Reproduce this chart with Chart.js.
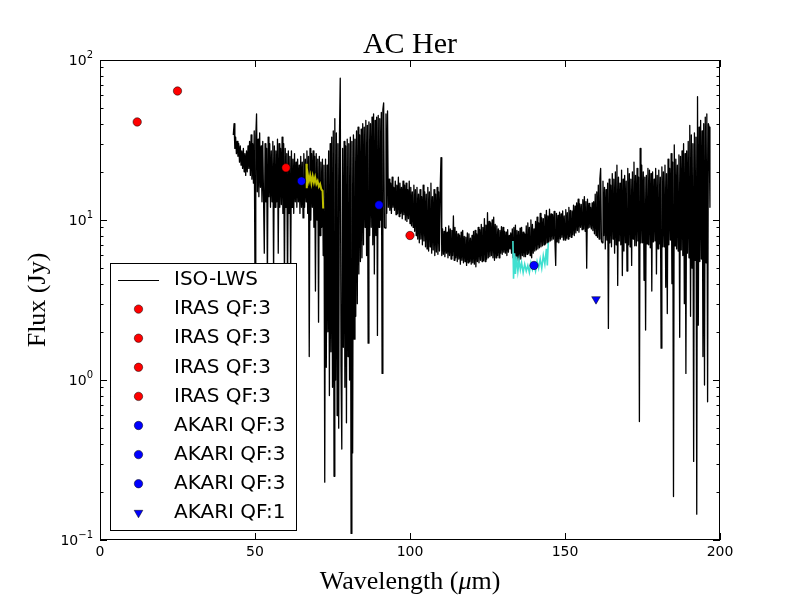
<!DOCTYPE html>
<html><head><meta charset="utf-8">
<script src="https://cdn.jsdelivr.net/npm/chart.js@4.4.1/dist/chart.umd.min.js"></script>
<style>html,body{margin:0;padding:0;background:#fff}canvas{display:block}</style>
</head><body>
<canvas id="c" width="800" height="600"></canvas>
<script>
// ISO-LWS spectrum: [wavelength (um), flux (Jy)]
const isoLws = [
[43.00,34],[43.25,40],[43.50,28],[43.75,33],[44.00,26],[44.25,31],[44.50,25],[44.75,30],[45.00,23],[45.25,29],[45.50,22],[45.75,27],[46.00,21],[46.25,28],[46.50,20],[46.75,26],
[47.00,19],[47.25,27],[47.50,20],[47.75,29],[48.00,21],[48.25,31],[48.50,19],[48.75,34],[49.00,18],[49.25,30],[49.50,17],[49.75,36],
[50.00,4.0],[50.25,33],[50.50,46],[50.75,15],[51.00,32],[51.25,14],[51.50,35],[51.75,16],[52.00,29],[52.25,13],[52.50,31],[52.75,14],[53.00,6.2],[53.25,30],[53.50,13],[53.75,28],
[54.00,4.0],[54.25,33],[54.50,14],[54.75,30],[55.00,12],[55.25,27],[55.50,13],[55.75,31],[56.00,4.5],[56.25,29],[56.50,12],[56.75,27],[57.00,13],[57.25,32],[57.50,6.2],[57.75,30],
[58.00,12],[58.25,28],[58.50,12.5],[58.75,33],[59.00,11],[59.25,30],[59.50,4.0],[59.75,28],[60.00,12],[60.25,26],[60.50,3.5],[60.75,27],[61.00,11],[61.25,25],[61.50,4.2],[61.75,27],
[62.00,12],[62.25,24],[62.50,11],[62.75,26],[63.00,13],[63.25,23],[63.50,12],[63.75,24],[64.00,13],[64.25,22],[64.50,11],[64.75,25],[65.00,12],[65.25,23],[65.50,10.3],[65.75,26],
[66.00,12],[66.25,24],[66.50,13],[66.75,27],[67.00,11],[67.25,25],[67.50,1.4],[67.75,28],[68.00,10],[68.25,26],[68.50,12],[68.75,27],[69.00,9],[69.25,25],[69.50,3.6],[69.75,26],
[70.00,10],[70.25,24],[70.50,2.3],[70.75,25],[71.00,8],[71.25,23],[71.50,9],[71.75,24],[72.00,6],[72.25,22],
[72.50,0.23],[72.75,24],[73.00,1.2],[73.25,22],[73.50,2.0],[73.75,27],[74.00,0.8],[74.25,30],[74.50,1.5],[74.75,33],[75.00,0.9],[75.25,36],[75.50,0.25],[75.75,43],[76.00,1.0],[76.25,35],
[76.50,0.6],[76.75,30],[77.00,0.5],[77.25,34],[77.50,77],[77.75,1.2],[78.00,0.37],[78.25,28],[78.50,1.6],[78.75,31],[79.00,0.9],[79.25,29],[79.50,0.54],[79.75,32],[80.00,1.4],[80.25,30],
[80.50,1.0],[80.75,33],[81.00,0.11],[81.25,31],[81.50,0.35],[81.75,34],[82.00,1.8],[82.25,32],[82.50,2.5],[82.75,36],[83.00,3.0],[83.25,38],[83.50,4.6],[83.75,34],[84.00,5.5],[84.25,37],
[84.50,5.8],[84.75,40],[85.00,7],[85.25,38],[85.50,9],[85.75,42],[86.00,6],[86.25,39],[86.50,1.7],[86.75,41],[87.00,8],[87.25,40],[87.50,9],[87.75,44],[88.00,7],[88.25,46],
[88.50,4.6],[88.75,42],[89.00,8],[89.25,44],[89.50,1.9],[89.75,45],[90.00,9],[90.25,43],[90.50,10],[90.75,47],[91.00,1.1],[91.25,49],[91.50,54],[91.75,9],[92.00,8.9],[92.25,46],
[92.50,11],[92.75,48],
[93.00,12],[93.25,18],[93.50,11.5],[93.75,17],[94.00,11],[94.25,18.5],[94.50,12],[94.75,16],[95.00,11.5],[95.25,17.5],[95.50,10.8],[95.75,16.5],[96.00,11],[96.25,18.5],[96.50,10.5],[96.75,17],
[97.00,11],[97.25,16],[97.50,10.2],[97.75,17.5],[98.00,10.8],[98.25,16.5],[98.50,10],[98.75,17],[99.00,9.8],[99.25,15.5],[99.50,10.2],[99.75,17.5],[100.00,9.5],[100.25,16],[100.50,9.2],[100.75,15],
[101.00,9],[101.25,16.5],[101.50,8.5],[101.75,15.5],[102.00,8],[102.25,16],[102.50,7.6],[102.75,14.5],[103.00,7.2],[103.25,15.5],[103.50,7.6],[103.75,14],[104.00,7.0],[104.25,16.5],[104.50,7.4],[104.75,15],
[105.00,6.8],[105.25,14.5],[105.50,6.6],[105.75,16],[106.00,6.4],[106.25,15],[106.50,6.8],[106.75,17],[107.00,6.2],[107.25,14],[107.50,6.5],[107.75,15.5],[108.00,6.0],[108.25,14.5],[108.50,6.3],[108.75,16],
[109.00,6.1],[109.25,15],[109.50,6.4],[109.75,16],[110.00,24.5],[110.25,6.0],
[110.50,8.8],[110.75,6.1],[111.00,8.5],[111.25,5.9],[111.50,9.0],[111.75,6.2],[112.00,8.4],[112.25,5.8],[112.50,9.2],[112.75,6.0],[113.00,8.8],[113.25,5.7],[113.50,8.6],[113.75,6.0],[114.00,10.6],[114.25,5.6],
[114.50,9.0],[114.75,5.8],[115.00,8.5],[115.25,5.5],[115.50,8.2],[115.75,5.7],[116.00,8.0],[116.25,5.3],[116.50,8.4],[116.75,5.6],[117.00,8.6],[117.25,5.4],[117.50,7.9],[117.75,5.5],[118.00,7.8],[118.25,5.2],
[118.50,8.3],[118.75,5.4],[119.00,8.2],[119.25,5.5],[119.50,7.7],[119.75,5.3],[120.00,8.0],[120.25,5.4],[120.50,8.5],[120.75,5.3],[121.00,8.6],[121.25,5.1],[121.50,8.2],[121.75,5.5],[122.00,9.0],[122.25,5.4],
[122.50,8.7],[122.75,5.6],[123.00,9.4],[123.25,5.5],[123.50,9.0],[123.75,5.6],[124.00,10.2],[124.25,5.5],[124.50,9.3],[124.75,5.7],[125.00,11.1],[125.25,5.8],[125.50,9.8],[125.75,5.9],[126.00,9.6],[126.25,6.0],
[126.50,10.0],[126.75,5.8],[127.00,10.4],[127.25,5.6],[127.50,9.4],[127.75,5.8],[128.00,9.2],[128.25,6.0],[128.50,8.8],[128.75,5.8],[129.00,8.6],[129.25,6.2],[129.50,9.1],[129.75,6.1],[130.00,9.0],[130.25,6.3],
[130.50,8.5],[130.75,6.2],[131.00,8.4],[131.25,6.0],[131.50,8.7],[131.75,6.3],[132.00,8.0],[132.25,6.6],[132.50,8.3],[132.75,6.2],[133.00,8.8],[133.25,5.8],[133.50,9.0],[133.75,6.0],[134.00,9.3],[134.25,5.6],
[134.50,8.6],[134.75,5.8],[135.00,8.5],[135.25,5.4],[135.50,8.9],[135.75,5.7],[136.00,9.0],[136.25,6.0],[136.50,8.4],[136.75,5.9],[137.00,8.2],[137.25,5.9],[137.50,9.2],[137.75,6.1],[138.00,9.6],[138.25,6.2],
[138.50,9.0],[138.75,6.0],[139.00,10.0],[139.25,5.8],[139.50,9.4],[139.75,6.2],[140.00,8.8],[140.25,6.4],[140.50,9.8],[140.75,6.5],[141.00,10.4],[141.25,6.6],[141.50,9.6],[141.75,6.7],[142.00,11.0],[142.25,6.8],
[142.50,10.3],[142.75,6.9],[143.00,10.2],[143.25,7.0],[143.50,10.8],[143.75,7.1],[144.00,11.5],[144.25,7.2],[144.50,10.6],[144.75,7.3],[145.00,11.7],[145.25,7.4],[145.50,10.9],[145.75,7.5],[146.00,10.8],[146.25,7.6],
[146.50,11.3],[146.75,7.4],[147.00,5.2],[147.25,11.0],[147.50,7.3],[147.75,10.7],[148.00,7.2],[148.25,11.2],[148.50,7.6],[148.75,10.9],[149.00,7.8],[149.25,11.4],[149.50,7.5],[149.75,10.6],[150.00,7.5],[150.25,11.6],
[150.50,7.7],[150.75,11.1],[151.00,7.6],[151.25,12.0],[151.50,7.9],[151.75,11.5],[152.00,7.8],[152.25,11.4],[152.50,8.1],[152.75,12.4],[153.00,8.0],[153.25,12.2],[153.50,8.3],[153.75,12.8],[154.00,8.6],[154.25,13.5],
[154.50,8.4],[154.75,12.6],[155.00,9.0],[155.25,12.5],[155.50,8.7],[155.75,13.4],[156.00,8.8],[156.25,14.0],[156.50,8.5],[156.75,13.0],[157.00,5.0],[157.25,13.5],[157.50,8.9],[157.75,12.7],[158.00,9.0],[158.25,12.0],
[158.50,8.8],[158.75,12.8],[159.00,8.6],[159.25,13.0],[159.50,8.2],[159.75,14.5],[160.00,8.0],[160.25,15.0],[160.50,7.8],[160.75,16.5],[161.00,7.6],[161.25,18.0],[161.50,21.0],[161.75,7.4],[162.00,7.2],[162.25,17.5],
[162.50,8.0],[162.75,16.0],[163.00,6.6],[163.25,15.5],[163.50,7.5],[163.75,17.0],[164.00,2.1],[164.25,18.0],[164.50,7.2],[164.75,16.5],[165.00,6.8],[165.25,19.5],[165.50,7.6],[165.75,18.0],[166.00,6.2],[166.25,20.0],
[166.50,7.0],[166.75,22.0],[167.00,3.9],[167.25,18.5],[167.50,7.4],[167.75,17.0],[168.00,7.0],[168.25,20.5],[168.50,4.5],[168.75,18.0],[169.00,6.4],[169.25,19.0],[169.50,7.2],[169.75,17.5],[170.00,4.8],[170.25,21.0],
[170.50,7.0],[170.75,19.5],[171.00,6.8],[171.25,18.0],[171.50,5.2],[171.75,20.0],[172.00,7.6],[172.25,23.0],[172.50,6.9],[172.75,19.0],[173.00,6.9],[173.25,21.0],[173.50,7.4],[173.75,18.5],[174.00,0.55],[174.25,28.0],
[174.50,7.2],[174.75,22.0],[175.00,7.2],[175.25,20.0],[175.50,4.2],[175.75,18.5],[176.00,2.05],[176.25,19.0],[176.50,7.1],[176.75,21.0],[177.00,7.0],[177.25,20.5],[177.50,6.7],[177.75,19.5],[178.00,3.6],[178.25,20.0],
[178.50,7.3],[178.75,18.0],[179.00,7.4],[179.25,21.0],[179.50,4.6],[179.75,19.0],[180.00,6.6],[180.25,20.5],[180.50,7.1],[180.75,18.5],[181.00,1.58],[181.25,21.5],[181.50,6.8],[181.75,20.0],[182.00,6.8],[182.25,22.0],
[182.50,3.8],[182.75,19.5],[183.00,2.6],[183.25,24.0],[183.50,7.0],[183.75,21.0],[184.00,7.5],[184.25,26.0],[184.50,4.0],[184.75,23.0],[185.00,0.187],[185.25,29.5],[185.50,6.9],[185.75,24.0],[186.00,6.6],[186.25,22.0],
[186.50,6.4],[186.75,25.5],[187.00,1.85],[187.25,25.0],[187.50,6.5],[187.75,27.0],[188.00,6.0],[188.25,30.0],[188.50,3.0],[188.75,26.0],[189.00,1.1],[189.25,27.0],[189.50,6.2],[189.75,31.0],[190.00,5.8],[190.25,39.0],
[190.50,2.5],[190.75,34.0],[191.00,5.0],[191.25,30.0],[191.50,0.31],[191.75,35.0],[192.00,5.6],[192.25,33.0],[192.50,0.145],[192.75,59.0],[193.00,2.2],[193.25,38.0],[193.50,5.5],[193.75,42.0],[194.00,5.7],[194.25,36.0],
[194.50,1.4],[194.75,40.0],[195.00,0.93],[195.25,44.0],[195.50,5.4],[195.75,46.0],[196.00,0.73],[196.25,40.0],[196.50,38.0],[196.75,12.0]
];
// short extra spectral segments (not in legend)
const yellowSeg = [[66.6,22.5],[66.7,15.8],[67.0,19.5],[67.4,17.5],[67.8,19.0],[68.2,17.0],[68.6,18.8],[69.0,17.2],[69.4,18.5],[69.8,16.8],[70.2,17.5],[70.6,16.2],[71.0,16.8],[71.4,15.5],[71.8,15.2],[72.0,11.8]];
const cyanSeg = [[133.2,7.4],[133.4,4.3],[133.7,6.2],[134.0,4.6],[134.4,5.9],[134.8,4.8],[135.2,5.6],[135.6,4.9],[136.0,5.4],[136.5,4.7],[137.0,5.3],[137.5,4.8],[138.0,5.2],[138.5,4.7],[139.0,5.4],[139.5,4.9],[140.0,5.3],[140.5,4.8],[141.0,5.5],[141.5,5.0],[142.0,5.7],[142.5,5.0],[143.0,6.0],[143.5,5.3],[144.0,6.6],[144.3,5.2],[144.6,7.2]];
// photometry
const irasWave = [12, 25, 60, 100];
const irasFlux = [41, 64, 21.2, 8.0];
const akariWave = [65, 90, 140];
const akariFlux = [17.5, 12.4, 5.2];
const akariQF1Wave = [160];
const akariQF1Flux = [3.2];
// axes
const xTicks = [0, 50, 100, 150, 200];
const yTicks = [0.1, 1, 10, 100];
const yTickExp = ['\u22121', '0', '1', '2'];
const yMinorMult = [2, 3, 4, 5, 6, 7, 8, 9];

const toXY = arr => arr.map(p => ({x: p[0], y: p[1]}));
const datasets = [];
datasets.push({label: 'ISO-LWS', data: toXY(isoLws), borderColor: '#000', borderWidth: 1.3, pointRadius: 0,
  borderJoinStyle: 'round', tension: 0, order: 3, inLegend: true, kind: 'line'});
irasWave.forEach((w, i) => datasets.push({label: 'IRAS QF:3', data: [{x: w, y: irasFlux[i]}], showLine: false,
  pointRadius: 4.2, pointBackgroundColor: '#ff0000', pointBorderColor: '#000', pointBorderWidth: 0.5, order: 0, inLegend: true, kind: 'circle'}));
akariWave.forEach((w, i) => datasets.push({label: 'AKARI QF:3', data: [{x: w, y: akariFlux[i]}], showLine: false,
  pointRadius: 4.2, pointBackgroundColor: '#0000ff', pointBorderColor: '#000', pointBorderWidth: 0.5, order: 0, inLegend: true, kind: 'circle'}));
akariQF1Wave.forEach((w, i) => datasets.push({label: 'AKARI QF:1', data: [{x: w, y: akariQF1Flux[i]}], showLine: false,
  pointStyle: 'triangle', rotation: 180, pointRadius: 5, pointBackgroundColor: '#0000ff', pointBorderColor: '#000', pointBorderWidth: 0.5, order: 0, inLegend: true, kind: 'tri'}));
datasets.push({label: '', data: toXY(yellowSeg), borderColor: '#bfbf00', borderWidth: 2, pointRadius: 0, tension: 0, order: 1, inLegend: false});
datasets.push({label: '', data: toXY(cyanSeg), borderColor: '#40e0d0', borderWidth: 1.6, pointRadius: 0, tension: 0, order: 1, inLegend: false});

const mplPlugin = {
  id: 'mpl',
  afterDraw(chart) {
    const {ctx, chartArea: a, scales: {x, y}} = chart;
    ctx.save();
    ctx.strokeStyle = '#000'; ctx.lineWidth = 1;
    // ticks inside
    ctx.beginPath();
    xTicks.forEach(v => {
      const px = Math.round(x.getPixelForValue(v)) + 0.5;
      ctx.moveTo(px, a.bottom); ctx.lineTo(px, a.bottom - 7);
      ctx.moveTo(px, a.top); ctx.lineTo(px, a.top + 7);
    });
    yTicks.forEach(v => {
      const py = Math.round(y.getPixelForValue(v)) + 0.5;
      ctx.moveTo(a.left, py); ctx.lineTo(a.left + 7, py);
      ctx.moveTo(a.right, py); ctx.lineTo(a.right - 7, py);
    });
    yTicks.slice(0, -1).forEach(d => yMinorMult.forEach(m => {
      const py = Math.round(y.getPixelForValue(d * m)) + 0.5;
      ctx.moveTo(a.left, py); ctx.lineTo(a.left + 3.5, py);
      ctx.moveTo(a.right, py); ctx.lineTo(a.right - 3.5, py);
    }));
    ctx.stroke();
    // frame
    ctx.strokeRect(a.left + 0.5, a.top + 0.5, a.right - a.left - 1, a.bottom - a.top - 1);

    // y tick labels: 10 with superscript exponent
    ctx.fillStyle = '#000';
    ctx.textBaseline = 'alphabetic'; ctx.textAlign = 'left';
    yTicks.forEach((v, i) => {
      const py = y.getPixelForValue(v);
      ctx.font = '10px "DejaVu Sans"';
      const ew = ctx.measureText(yTickExp[i]).width;
      ctx.font = '14px "DejaVu Sans"';
      const bw = ctx.measureText('10').width;
      const right = a.left - 7;
      ctx.fillText('10', right - ew - bw, py + 5);
      ctx.font = '10px "DejaVu Sans"';
      ctx.fillText(yTickExp[i], right - ew, py - 2.5);
    });

    // legend
    const lx = 110, ly = 263, lw = 186, lh = 267;
    ctx.fillStyle = '#fff';
    ctx.fillRect(lx, ly, lw, lh);
    ctx.strokeStyle = '#000'; ctx.lineWidth = 1;
    ctx.strokeRect(lx + 0.5, ly + 0.5, lw, lh);
    ctx.font = '20px "DejaVu Sans"';
    ctx.textAlign = 'left'; ctx.textBaseline = 'middle';
    let row = 0;
    chart.data.datasets.forEach(ds => {
      if (!ds.inLegend) return;
      const cy = 280 + row * 29.1;
      const mx = 138.5;
      if (ds.kind === 'line') {
        ctx.strokeStyle = ds.borderColor; ctx.lineWidth = 1;
        const ly2 = Math.round(cy) + 0.5;
        ctx.beginPath(); ctx.moveTo(118, ly2); ctx.lineTo(159, ly2); ctx.stroke();
      } else if (ds.kind === 'circle') {
        ctx.fillStyle = ds.pointBackgroundColor; ctx.strokeStyle = '#000'; ctx.lineWidth = 0.5;
        ctx.beginPath(); ctx.arc(mx, cy, 4.2, 0, Math.PI * 2); ctx.fill(); ctx.stroke();
      } else {
        const r = 5;
        ctx.fillStyle = ds.pointBackgroundColor; ctx.strokeStyle = '#000'; ctx.lineWidth = 0.5;
        ctx.beginPath();
        ctx.moveTo(mx, cy + r);
        ctx.lineTo(mx - r * Math.sin(Math.PI / 3), cy - r / 2);
        ctx.lineTo(mx + r * Math.sin(Math.PI / 3), cy - r / 2);
        ctx.closePath(); ctx.fill(); ctx.stroke();
      }
      ctx.fillStyle = '#000';
      ctx.fillText(ds.label, 174, cy);
      row++;
    });

    // title
    ctx.fillStyle = '#000';
    ctx.textAlign = 'center'; ctx.textBaseline = 'alphabetic';
    ctx.font = '30px "Liberation Serif"';
    ctx.fillText('AC Her', (a.left + a.right) / 2, 53);
    // x label with italic mu
    const parts = [['Wavelength (', ''], ['\u03BC', 'italic '], ['m)', '']];
    let tot = 0;
    parts.forEach(p => { ctx.font = p[1] + '26px "Liberation Serif"'; tot += ctx.measureText(p[0]).width; });
    let sx = (a.left + a.right) / 2 - tot / 2;
    ctx.textAlign = 'left';
    parts.forEach(p => { ctx.font = p[1] + '26px "Liberation Serif"'; ctx.fillText(p[0], sx, 589); sx += ctx.measureText(p[0]).width; });
    // y label
    ctx.save();
    ctx.translate(45, (a.top + a.bottom) / 2);
    ctx.rotate(-Math.PI / 2);
    ctx.textAlign = 'center';
    ctx.font = '26px "Liberation Serif"';
    ctx.fillText('Flux (Jy)', 0, 0);
    ctx.restore();
    ctx.restore();
  }
};

new Chart(document.getElementById('c'), {
  type: 'line',
  data: {datasets},
  options: {
    responsive: false, animation: false, devicePixelRatio: 1,
    layout: {padding: {top: 60, right: 80, left: 0, bottom: 0}},
    plugins: {legend: {display: false}, tooltip: {enabled: false}, title: {display: false}},
    scales: {
      x: {type: 'linear', min: 0, max: 200,
        afterBuildTicks: s => { s.ticks = xTicks.map(v => ({value: v})); },
        afterFit: s => { s.height = 60; },
        grid: {display: false, drawTicks: false, tickLength: 0}, border: {display: false},
        ticks: {color: '#000', padding: 4, font: {family: 'DejaVu Sans', size: 14}, maxRotation: 0, autoSkip: false,
          callback: v => String(v)}},
      y: {type: 'logarithmic', min: 0.1, max: 100,
        afterBuildTicks: s => { s.ticks = yTicks.map(v => ({value: v})); },
        afterFit: s => { s.width = 100; },
        grid: {display: false, drawTicks: false, tickLength: 0}, border: {display: false},
        ticks: {display: false}}
    }
  },
  plugins: [mplPlugin]
});
</script>
</body></html>
